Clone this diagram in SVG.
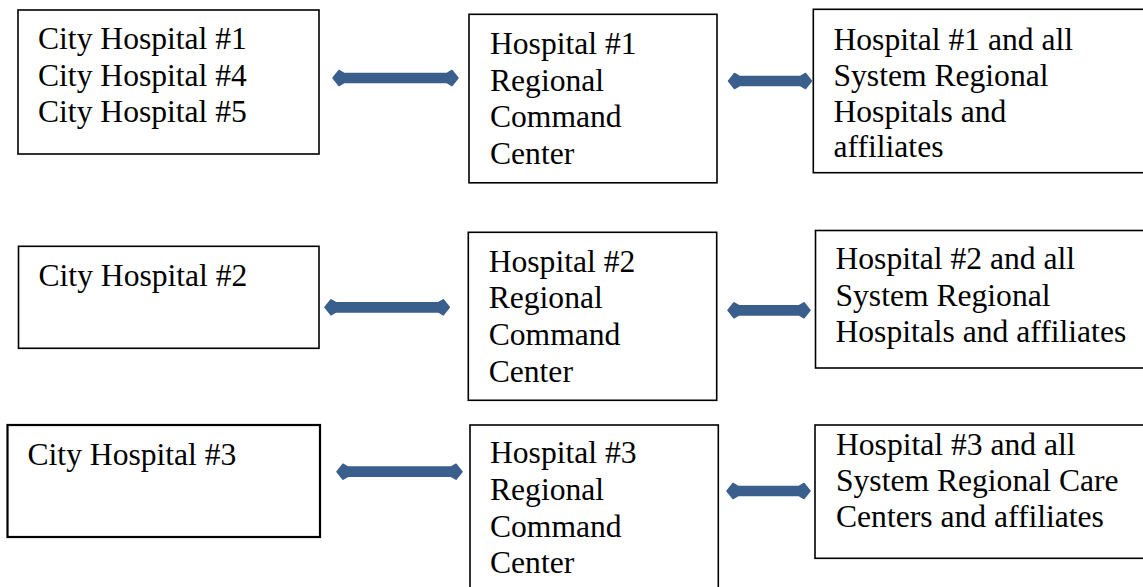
<svg xmlns="http://www.w3.org/2000/svg" width="1143" height="587" viewBox="0 0 1143 587">
  <style>
    .box { fill: #ffffff; stroke: #000000; stroke-width: 1.6; }
    .lbl { font-family: "Liberation Serif", "Times New Roman", serif; font-size: 31.6px; fill: #000000; }
    .link { fill: #3b5f8c; stroke: #3b5f8c; stroke-width: 1.5; stroke-linejoin: round; }
  </style>
  <rect width="1143" height="587" fill="#ffffff"/>

  <!-- Row 1 -->
  <g id="city-1-4-5">
    <rect class="box" x="18" y="10" width="301" height="144"/>
    <text class="lbl"><tspan x="38" y="49.3">City Hospital #1</tspan><tspan x="38" y="85.6">City Hospital #4</tspan><tspan x="38" y="122">City Hospital #5</tspan></text>
  </g>
  <g id="command-1">
    <rect class="box" x="469" y="14.3" width="248" height="168.5"/>
    <text class="lbl"><tspan x="490" y="54.3">Hospital #1</tspan><tspan x="490" y="90.8">Regional</tspan><tspan x="490" y="127.4">Command</tspan><tspan x="490" y="164">Center</tspan></text>
  </g>
  <g id="system-1">
    <rect class="box" x="813.3" y="9.3" width="345" height="163.4"/>
    <text class="lbl"><tspan x="833.5" y="50">Hospital #1 and all</tspan><tspan x="833.5" y="86">System Regional</tspan><tspan x="833.5" y="121.8">Hospitals and</tspan><tspan x="833.5" y="157.4">affiliates</tspan></text>
  </g>

  <!-- Row 2 -->
  <g id="city-2">
    <rect class="box" x="18.5" y="246.3" width="300.5" height="102"/>
    <text class="lbl"><tspan x="38.5" y="286">City Hospital #2</tspan></text>
  </g>
  <g id="command-2">
    <rect class="box" x="468.3" y="232.3" width="248.4" height="168"/>
    <text class="lbl"><tspan x="488.7" y="271.7">Hospital #2</tspan><tspan x="488.7" y="308.3">Regional</tspan><tspan x="488.7" y="345">Command</tspan><tspan x="488.7" y="381.7">Center</tspan></text>
  </g>
  <g id="system-2">
    <rect class="box" x="815.5" y="230.5" width="345" height="137.5"/>
    <text class="lbl"><tspan x="835.5" y="269.3">Hospital #2 and all</tspan><tspan x="835.5" y="305.5">System Regional</tspan><tspan x="835.5" y="341.7">Hospitals and affiliates</tspan></text>
  </g>

  <!-- Row 3 -->
  <g id="city-3">
    <rect class="box" x="7.5" y="425" width="312.5" height="112" style="stroke-width:2.2"/>
    <text class="lbl"><tspan x="27.5" y="465">City Hospital #3</tspan></text>
  </g>
  <g id="command-3">
    <rect class="box" x="470" y="425" width="248.3" height="175"/>
    <text class="lbl"><tspan x="490" y="463.3">Hospital #3</tspan><tspan x="490" y="500">Regional</tspan><tspan x="490" y="536.7">Command</tspan><tspan x="490" y="573.3">Center</tspan></text>
  </g>
  <g id="system-3">
    <rect class="box" x="815" y="425" width="345" height="133.3"/>
    <text class="lbl"><tspan x="836" y="455">Hospital #3 and all</tspan><tspan x="836" y="491">System Regional Care</tspan><tspan x="836" y="527">Centers and affiliates</tspan></text>
  </g>

  <!-- Two-way links between the tiers: diamond head at each end of a thick shaft -->
  <g id="connectors">
    <path class="link" d="M333,78 l6,-7.5 l5,2.9 h103 l5,-2.9 l6,7.5 l-6,7.5 l-5,-2.9 h-103 l-5,2.9 Z"/>
    <path class="link" d="M728.5,81 l6,-7.5 l5,2.9 h61 l5,-2.9 l6,7.5 l-6,7.5 l-5,-2.9 h-61 l-5,2.9 Z"/>
    <path class="link" d="M325,307.3 l6,-7.5 l5,2.9 h102.3 l5,-2.9 l6,7.5 l-6,7.5 l-5,-2.9 h-102.3 l-5,2.9 Z"/>
    <path class="link" d="M728,310.3 l6,-7.5 l5,2.9 h60 l5,-2.9 l6,7.5 l-6,7.5 l-5,-2.9 h-60 l-5,2.9 Z"/>
    <path class="link" d="M337,471.7 l6,-7.5 l5,2.9 h103 l5,-2.9 l6,7.5 l-6,7.5 l-5,-2.9 h-103 l-5,2.9 Z"/>
    <path class="link" d="M727,491 l6,-7.5 l5,2.9 h61 l5,-2.9 l6,7.5 l-6,7.5 l-5,-2.9 h-61 l-5,2.9 Z"/>
  </g>
</svg>
